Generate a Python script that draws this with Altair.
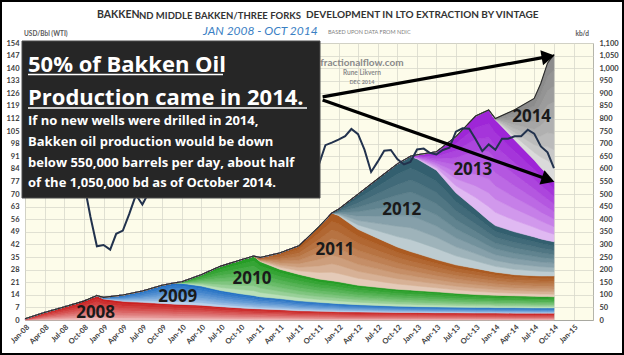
import altair as alt
import pandas as pd

# ---------------- data ----------------
dates = ["2008-01-01", "2008-04-01", "2008-07-01", "2008-10-01", "2008-12-01",
         "2009-01-01", "2009-04-01", "2009-07-01", "2009-10-01", "2009-12-01",
         "2010-01-01", "2010-04-01", "2010-07-01", "2010-10-01", "2010-12-01",
         "2011-01-01", "2011-04-01", "2011-07-01", "2011-10-01", "2011-12-01",
         "2012-01-01", "2012-04-01", "2012-07-01", "2012-10-01", "2012-12-01",
         "2013-01-01", "2013-04-01", "2013-07-01", "2013-10-01", "2013-12-01",
         "2014-01-01", "2014-04-01", "2014-07-01", "2014-08-01", "2014-09-01", "2014-10-01"]

# kb/d produced by wells of each vintage
v2008 = [5, 30, 52, 75, 97, 84, 74, 70, 66, 63, 62, 59, 53, 48, 45, 44, 41, 37, 35, 34,
         33, 32, 31, 30, 30, 30, 29, 29, 28, 28, 28, 27, 27, 27, 27, 27]
v2009 = [0, 0, 0, 0, 0, 6, 25, 45, 72, 85, 84, 76, 64, 56, 52, 48, 44, 39, 35, 33,
         32, 29, 27, 25, 24, 23, 23, 22, 22, 22, 21, 22, 21, 21, 21, 21]
v2010 = [0, 0, 0, 0, 0, 0, 0, 0, 0, 0, 6, 45, 97, 134, 157, 140, 117, 105, 93, 89,
         87, 77, 72, 67, 65, 64, 60, 55, 51, 49, 49, 47, 46, 45, 45, 44]
v2011 = [0, 0, 0, 0, 0, 0, 0, 0, 0, 0, 0, 0, 0, 0, 0, 16, 64, 114, 207, 269,
         263, 222, 195, 168, 153, 147, 128, 113, 104, 96, 92, 84, 82, 82, 82, 83]
v2012 = [0, 0, 0, 0, 0, 0, 0, 0, 0, 0, 0, 0, 0, 0, 0, 0, 0, 0, 0, 0,
         25, 140, 235, 330, 378, 376, 355, 286, 235, 200, 185, 170, 154, 147, 141, 136]
v2013 = [0, 0, 0, 0, 0, 0, 0, 0, 0, 0, 0, 0, 0, 0, 0, 0, 0, 0, 0, 0,
         0, 0, 0, 0, 0, 16, 73, 223, 370, 439, 420, 365, 305, 283, 262, 239]
v2014 = [0, 0, 0, 0, 0, 0, 0, 0, 0, 0, 0, 0, 0, 0, 0, 0, 0, 0, 0, 0,
         0, 0, 0, 0, 0, 0, 0, 0, 0, 0, 5, 120, 245, 335, 442, 505]

vintages = ["2008", "2009", "2010", "2011", "2012", "2013", "2014"]
vint_values = [v2008, v2009, v2010, v2011, v2012, v2013, v2014]
base_colors = ["#c81a1a", "#1c6cc2", "#1f9a1f", "#a8561b", "#2c5a6a", "#9b1fd6", "#888888"]

# WTI monthly average, USD/Bbl, Jan-08 .. Oct-14
wti = [93.0, 95.4, 105.6, 112.6, 125.4, 133.9, 133.4, 116.6, 103.9, 76.7, 57.4, 41.0,
       41.7, 39.1, 47.9, 49.7, 59.0, 69.6, 64.2, 71.1, 69.4, 75.7, 78.0, 74.5,
       78.3, 76.4, 81.2, 84.3, 73.7, 75.3, 76.3, 76.6, 75.2, 81.9, 84.3, 89.2,
       89.2, 88.6, 102.9, 109.5, 100.9, 96.3, 97.3, 86.3, 85.5, 86.3, 97.2, 98.6,
       100.3, 102.2, 106.2, 103.3, 94.7, 82.3, 87.9, 94.1, 94.5, 89.5, 86.5, 87.9,
       94.8, 95.3, 92.9, 92.0, 94.5, 95.8, 104.7, 106.6, 106.3, 100.5, 93.9, 97.6,
       94.6, 100.8, 100.8, 102.1, 102.2, 105.8, 103.6, 96.5, 93.2, 84.4]
wti_dates = [d.strftime("%Y-%m-%d") for d in pd.date_range("2008-01-01", periods=len(wti), freq="MS")]

# vintage labels (date, kb/d level)
label_text = ["2008", "2009", "2010", "2011", "2012", "2013", "2014"]
label_date = ["2008-11-25", "2009-12-13", "2010-11-24", "2011-12-15", "2012-10-22", "2013-09-18", "2014-06-19"]
label_kb = [28, 91, 163, 278, 437, 596, 806]

# arrows from the text box to 1,050 and 550 kb/d in Oct-14
arrow_start_date = ["2011-10-19", "2011-10-19"]
arrow_start_kb = [886, 874]
arrow_end_date = ["2014-09-04", "2014-09-04"]
arrow_end_kb = [1046, 558]
arrow_angle = [349.8, 19.4]

# ---------------- build tables ----------------
N = 8
rows = []
for i, d in enumerate(dates):
    base = 0.0
    for vi, vals in enumerate(vint_values):
        v = vals[i]
        for k in range(N):
            rows.append({"date": d, "key": f"{vi}_{k}",
                         "lo": base + v * k / N, "hi": base + v * (k + 1) / N})
        base += v
strips = pd.DataFrame(rows)
totals = pd.DataFrame({"date": dates,
                       "total": [sum(vv[i] for vv in vint_values) for i in range(len(dates))]})


def blend(hexc, f):
    r, g, b = int(hexc[1:3], 16), int(hexc[3:5], 16), int(hexc[5:7], 16)
    return "#%02x%02x%02x" % (round(255 + (r - 255) * f), round(255 + (g - 255) * f), round(255 + (b - 255) * f))


keys, cols = [], []
for vi, c in enumerate(base_colors):
    for k in range(N):
        t = (k + 0.5) / N
        keys.append(f"{vi}_{k}")
        cols.append(blend(c, 0.15 + 0.85 * t ** 0.6))

wti_df = pd.DataFrame({"date": wti_dates, "wti": wti})
labels_df = pd.DataFrame({"date": label_date, "kb": label_kb, "txt": label_text})
arrows_df = pd.DataFrame({"d1": arrow_start_date, "k1": arrow_start_kb,
                          "d2": arrow_end_date, "k2": arrow_end_kb, "ang": arrow_angle})
wm_df = pd.DataFrame({"date": ["2012-04-19", "2012-04-19", "2012-04-19"], "kb": [1020, 981, 945],
                      "txt": ["fractionalflow.com", "Rune Likvern", "DEC 2014"], "fs": [10, 6.5, 5.5]})
one = pd.DataFrame({"a": [0]})

# ---------------- scales / axes ----------------
tick_dates = [alt.DateTime(year=2008 + m // 12, month=m % 12 + 1, date=1) for m in range(0, 85, 3)]
xscale = alt.Scale(domain=[alt.DateTime(year=2008, month=1, date=1), alt.DateTime(year=2015, month=4, date=1)])
xaxis = alt.Axis(format="%b-%y", values=tick_dates, labelAngle=-45, title=None, ticks=False,
                 labelOverlap=False, labelBound=False,
                 labelFont="Lato", labelFontWeight="bold", labelFontSize=7.5, labelColor="#404040",
                 grid=True, gridColor="#d8d8cc", gridWidth=0.8, domainColor="#a8a8a0", labelPadding=3)
X = alt.X("date:T", scale=xscale, axis=xaxis)
kb_scale = alt.Scale(domain=[0, 1100], nice=False, zero=True)
kb_axis = alt.Axis(orient="right", values=list(range(0, 1101, 50)), title=None, ticks=False,
                   labelExpr="format(datum.value, ',')",
                   labelOverlap=False, labelBound=False,
                   labelFont="Lato", labelFontWeight="bold", labelFontSize=7.5, labelColor="#404040",
                   grid=True, gridColor="#d8d8cc", gridWidth=0.8, domain=False, labelPadding=6)
usd_scale = alt.Scale(domain=[0, 154], nice=False, zero=True)
usd_axis = alt.Axis(orient="left", values=list(range(0, 155, 7)), title=None, ticks=False,
                    labelOverlap=False, labelBound=False,
                    labelFont="Lato", labelFontWeight="bold", labelFontSize=7.5, labelColor="#404040",
                    grid=False, domain=False, labelPadding=6)

# ---------------- production group ----------------
areas = alt.Chart(strips).mark_area(strokeWidth=0.6).encode(
    x=X,
    y=alt.Y("lo:Q", scale=kb_scale, axis=kb_axis, stack=None),
    y2="hi:Q",
    color=alt.Color("key:N", scale=alt.Scale(domain=keys, range=cols), legend=None),
    stroke=alt.Stroke("key:N", scale=alt.Scale(domain=keys, range=cols), legend=None),
)
envelope = alt.Chart(totals).mark_line(color="#2a2a2a", strokeWidth=1.1).encode(
    x=X, y=alt.Y("total:Q", scale=kb_scale, axis=kb_axis))
watermark = alt.Chart(wm_df).mark_text(font="Lato", fontWeight="bold", color="#8a8a8a").encode(
    x=X, y=alt.Y("kb:Q", scale=kb_scale, axis=kb_axis), text="txt:N",
    size=alt.Size("fs:Q", scale=None, legend=None))
prod = alt.layer(areas, envelope, watermark)

# ---------------- WTI group ----------------
wline = alt.Chart(wti_df).mark_line(color="#22324d", strokeWidth=2).encode(
    x=X, y=alt.Y("wti:Q", scale=usd_scale, axis=usd_axis))

# ---------------- labels & arrows group ----------------
kb2 = alt.Scale(domain=[0, 1100], nice=False, zero=True)
Xa = alt.X("d1:T", scale=xscale, axis=xaxis)
ylabels = alt.Chart(labels_df).mark_text(font="Open Sans", fontWeight="bold", fontSize=17,
                                          color="#1a1a1a").encode(
    x=X, y=alt.Y("kb:Q", scale=kb2, axis=None), text="txt:N")
arrow_lines = alt.Chart(arrows_df).mark_rule(color="black", strokeWidth=3.2).encode(
    x=Xa, x2="d2:T", y=alt.Y("k1:Q", scale=kb2, axis=None), y2="k2:Q")
arrow_heads = alt.Chart(arrows_df).mark_point(shape="triangle-right", filled=True, size=230,
                                               color="black", opacity=1).encode(
    x=alt.X("d2:T", scale=xscale, axis=xaxis), y=alt.Y("k2:Q", scale=kb2, axis=None),
    angle=alt.Angle("ang:Q", scale=None))
annot = alt.layer(ylabels, arrow_lines, arrow_heads)


# ---------------- text box and titles (pixel placed) ----------------
def txt(s, x, y, size, color="white", font="Open Sans", weight="bold", align="left",
        baseline="alphabetic", style="normal"):
    return alt.Chart(one).mark_text(text=s, font=font, fontWeight=weight, fontSize=size, color=color,
                                    align=align, baseline=baseline, fontStyle=style).encode(
        x=alt.value(x), y=alt.value(y))


def hrule(x1, x2, y, color="white", w=1.6):
    return alt.Chart(one).mark_rule(color=color, strokeWidth=w).encode(
        x=alt.value(x1), x2=alt.value(x2), y=alt.value(y))


box = alt.Chart(one).mark_rect(color="#262626", stroke="#4a4a4a", strokeWidth=1).encode(
    x=alt.value(-3), x2=alt.value(295), y=alt.value(-2), y2=alt.value(155))

pieces = [
    box,
    txt("50% of Bakken Oil", 3, 29, 22),
    hrule(3, 198, 31.5),
    txt("Production came in 2014.", 3, 62, 22),
    hrule(3, 282, 65),
    txt("If no new wells were drilled in 2014,", 3, 82, 13),
    txt("Bakken oil production would be down", 3, 103, 13),
    txt("below 550,000 barrels per day, about half", 3, 123.7, 13),
    txt("of the 1,050,000 bd as of October 2014.", 3, 143.7, 13),
    txt("BAKKEN", 72, -28, 10.5, color="#333333", font="Lato", baseline="middle"),
    txt("ND MIDDLE BAKKEN/THREE FORKS", 114, -27.5, 9.5, color="#333333", font="Lato", baseline="middle"),
    txt("DEVELOPMENT IN LTO EXTRACTION BY VINTAGE", 281, -28, 10, color="#333333", font="Lato",
        baseline="middle"),
    txt("JAN 2008 - OCT 2014", 178, -12, 12, color="#3a80c4", font="Lato", weight="normal",
        baseline="middle", style="italic"),
    txt("BASED UPON DATA FROM NDIC", 303, -11, 5.5, color="#7f7f7f", font="Lato", weight="normal",
        baseline="middle"),
    txt("USD/Bbl (WTI)", -1, -9, 6.5, color="#595959", font="Lato", baseline="middle"),
    txt("kb/d", 564, -9, 6.5, color="#595959", font="Lato", baseline="middle", align="right"),
    alt.Chart(one).mark_rect(fillOpacity=0, stroke="black", strokeWidth=2).encode(
        x=alt.value(-24), x2=alt.value(598), y=alt.value(-42), y2=alt.value(311)),
]
overlay = alt.layer(*pieces)

chart = alt.layer(prod, wline, annot, overlay).resolve_scale(y="independent").properties(
    width=568, height=277,
    padding={"left": 25, "top": 43, "right": 31, "bottom": 35},
    autosize=alt.AutoSizeParams(type="none"),
    background="white",
).configure_view(fill="#fdfcea", stroke="#b5b5aa", strokeWidth=1)

chart.save("out.html", embed_options={"renderer": "svg", "actions": False})
